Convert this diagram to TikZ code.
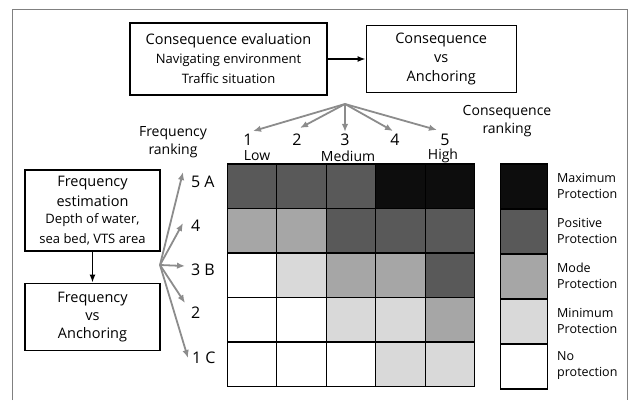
\documentclass[tikz,border=0pt]{standalone}
\usepackage{fontspec}
\setmainfont{Open Sans}
\usepackage{xcolor}
\usetikzlibrary{arrows.meta,positioning}
\definecolor{cMax}{HTML}{0D0D0D}
\definecolor{cPos}{HTML}{595959}
\definecolor{cMode}{HTML}{A6A6A6}
\definecolor{cMin}{HTML}{D9D9D9}
\definecolor{cFan}{HTML}{8C8C8C}
\definecolor{cFrame}{HTML}{808080}
\newcommand{\bigtxt}{\fontsize{14.5}{20}\selectfont}
\newcommand{\smtxt}{\fontsize{13}{17.5}\selectfont}
\tikzset{
  box/.style={draw,line width=1.2pt,align=center,inner sep=0pt,font=\bigtxt},
  flow/.style={line width=1.6pt,-{Latex[length=8pt,width=6pt]}},
  fan/.style={cFan,line width=1.8pt,-{Latex[length=8pt,width=6.5pt]}},
  cell/.style={draw,line width=1.1pt,minimum width=49.5pt,minimum height=44.5pt,inner sep=0pt},
  key/.style={draw,line width=1.1pt,minimum width=47pt,minimum height=45pt,inner sep=0pt},
  rank/.style={font=\fontsize{16}{18}\selectfont,inner sep=1pt},
  note/.style={font=\fontsize{14}{18}\selectfont,inner sep=0pt,align=center},
  keytxt/.style={font=\fontsize{12.5}{16}\selectfont,align=left,anchor=west,inner sep=0pt}
}

\begin{document}
\begin{tikzpicture}[x=1pt,y=-1pt]
  \useasboundingbox (0,0) rectangle (635,400);
  \draw[cFrame,line width=0.8pt] (12,400) -- (12,9) -- (627,9) -- (627,400);

  % flow boxes
  \node[box,minimum width=197pt,minimum height=72pt] (evalbox) at (228.5,59)
    {Consequence evaluation\\[-1pt]\smtxt Navigating environment\\\smtxt Traffic situation};
  \node[box,minimum width=150pt,minimum height=67pt,right=38pt of evalbox] (conbox)
    {Consequence\\[-1pt]vs\\[-1pt]Anchoring};
  \draw[flow] (evalbox) -- (conbox);

  \node[box,minimum width=135pt,minimum height=81pt] (freqbox) at (92.5,210.5)
    {Frequency\\estimation\\[-3pt]\smtxt Depth of water,\\\smtxt sea bed, VTS area};
  \node[box,minimum width=135pt,minimum height=67pt,below=31pt of freqbox] (fvbox)
    {Frequency\\[-2pt]vs\\[-2pt]Anchoring};
  \draw[flow] (freqbox) -- (fvbox);

  % consequence ranking
  \coordinate (capex) at (345,104);
  \node[rank] (c1) at (248,140) {1};
  \node[rank] (c2) at (297,140) {2};
  \node[rank] (c3) at (345,140) {3};
  \node[rank] (c4) at (395,140) {4};
  \node[rank] (c5) at (445,140) {5};
  \draw[fan] (capex) -- ([shift={(5,-2)}]c1.north);
  \draw[fan] (capex) -- ([shift={(3,-5)}]c2.north);
  \draw[fan] (capex) -- ([shift={(0,-1)}]c3.north);
  \draw[fan] (capex) -- ([shift={(-2,-2)}]c4.north);
  \draw[fan] (capex) -- ([shift={(-8,-3)}]c5.north);
  \node[note] (low) at (257,156) {Low};
  \node[note] (med) at (348,156) {Medium};
  \node[note] (high) at (443,156) {High};
  \node[note] (crank) at (507,121) {Consequence\\ranking};

  % frequency ranking
  \node[note] (frank) at (173,142) {Frequency\\ranking};
  \coordinate (fapex) at (160,265);
  \node[rank,anchor=west] (r5) at (190,182) {5 A};
  \node[rank,anchor=west] (r4) at (190,226) {4};
  \node[rank,anchor=west] (r3) at (190,270) {3 B};
  \node[rank,anchor=west] (r2) at (190,313) {2};
  \node[rank,anchor=west] (r1) at (191,358) {1 C};
  \draw[fan] (fapex) -- ([shift={(-7,-10)}]r5.west);
  \draw[fan] (fapex) -- ([shift={(-7,-3)}]r4.west);
  \draw[fan] (fapex) -- ([shift={(-5,-4)}]r3.west);
  \draw[fan] (fapex) -- ([shift={(-5,-10)}]r2.west);
  \draw[fan] (fapex) -- ([shift={(-3,0)}]r1.west);

  % risk matrix
  \foreach \row [count=\r] in {{cPos,cPos,cPos,cMax,cMax},{cMode,cMode,cPos,cPos,cPos},
      {white,cMin,cMode,cMode,cPos},{white,white,cMin,cMin,cMode},{white,white,white,cMin,cMin}}
    \foreach \col [count=\c] in \row
      \node[cell,fill=\col] (g\r\c) at ({227.3+49.5*(\c-0.5)},{164+44.5*(\r-0.5)}) {};

  % legend
  \foreach \col/\txt [count=\i] in {cMax/{Maximum\\Protection},cPos/{Positive\\Protection},
      cMode/{Mode\\Protection},cMin/{Minimum\\Protection},white/{No\\protection}}
  {
    \node[key,fill=\col] (k\i) at (523.7,{164+45*(\i-0.5)}) {};
    \node[keytxt] (kt\i) at (557,{164+45*(\i-0.5)-1}) {\txt};
  }
\end{tikzpicture}
\end{document}
